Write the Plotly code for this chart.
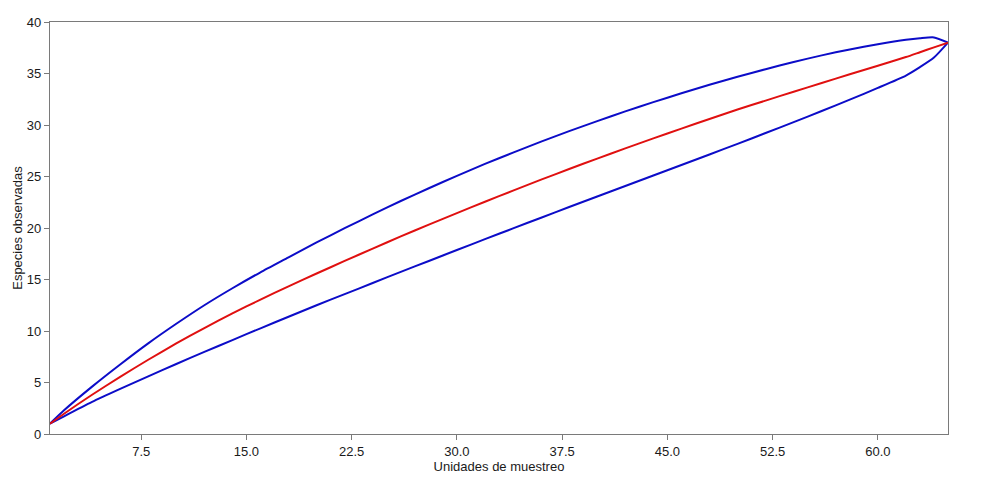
import plotly.graph_objects as go

units = [1, 2, 4, 6, 8, 10, 12, 14, 16, 18, 20, 22, 24, 26, 28, 30, 32, 34, 36, 38,
         40, 42, 44, 46, 48, 50, 52, 54, 56, 58, 60, 62, 63, 64, 65]

# Mean observed species (red)
species_mean = [1.0, 1.97, 3.81, 5.55, 7.21, 8.79, 10.29, 11.71, 13.05, 14.33, 15.58,
                16.8, 18.0, 19.18, 20.33, 21.45, 22.55, 23.63, 24.69, 25.73,
                26.74, 27.73, 28.7, 29.65, 30.58, 31.5, 32.37, 33.23, 34.08, 34.92,
                35.76, 36.6, 37.07, 37.54, 38.0]

# Upper confidence bound (blue)
species_upper = [1.0, 2.3, 4.6, 6.75, 8.8, 10.7, 12.5, 14.15, 15.7, 17.15, 18.6,
                 19.98, 21.32, 22.62, 23.86, 25.06, 26.22, 27.32, 28.38, 29.4,
                 30.38, 31.32, 32.22, 33.08, 33.9, 34.68, 35.42, 36.12, 36.76, 37.34,
                 37.84, 38.27, 38.42, 38.5, 38.0]

# Lower confidence bound (blue)
species_lower = [1.0, 1.72, 3.12, 4.38, 5.6, 6.8, 7.97, 9.12, 10.26, 11.38, 12.5,
                 13.58, 14.66, 15.74, 16.8, 17.86, 18.92, 19.96, 21.0, 22.04,
                 23.06, 24.08, 25.1, 26.12, 27.14, 28.17, 29.22, 30.28, 31.36, 32.46,
                 33.6, 34.8, 35.62, 36.55, 38.0]

x_ticks = [7.5, 15.0, 22.5, 30.0, 37.5, 45.0, 52.5, 60.0]
y_ticks = [0, 5, 10, 15, 20, 25, 30, 35, 40]

BLUE = "#0c0cc8"
RED = "#e01010"
AX = "#7a7a7a"

fig = go.Figure()
for ys, col in [(species_upper, BLUE), (species_lower, BLUE), (species_mean, RED)]:
    fig.add_trace(go.Scatter(x=units, y=ys, mode="lines",
                             line=dict(color=col, width=2, shape="spline", smoothing=0.6),
                             showlegend=False))

font = dict(family="Liberation Sans, Arial, sans-serif", size=13, color="#1a1a1a")

fig.update_layout(
    width=989, height=484,
    margin=dict(l=42, r=49, t=14, b=58),
    paper_bgcolor="white", plot_bgcolor="white",
    font=font,
    xaxis=dict(
        range=[1, 65], tickvals=x_ticks, ticktext=[f"{v:.1f}" for v in x_ticks],
        showgrid=False, zeroline=False, showline=True, linecolor=AX, linewidth=1.2,
        mirror=True, ticks="outside", ticklen=5, tickcolor=AX, tickwidth=1,
        automargin=False,
        title=dict(text="Unidades de muestreo", font=font, standoff=1),
    ),
    yaxis=dict(
        range=[0, 40], tickvals=y_ticks,
        showgrid=False, zeroline=False, showline=True, linecolor=AX, linewidth=1.2,
        mirror=True, ticks="outside", ticklen=5, tickcolor=AX, tickwidth=1,
        automargin=False,
        title=dict(text="Especies observadas", font=font, standoff=1),
    ),
)

fig.write_html("out.html")
